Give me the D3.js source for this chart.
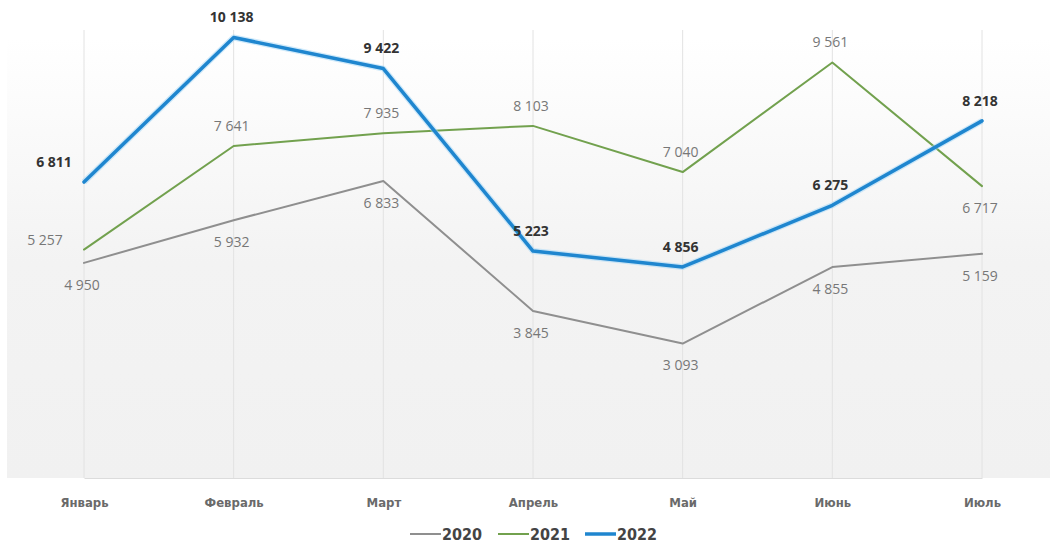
<!DOCTYPE html>
<html>
<head>
<meta charset="utf-8">
<script src="https://cdn.jsdelivr.net/npm/d3@7"></script>
<style>
  body { margin: 0; background: #fff; }
  svg { display: block; }
</style>
</head>
<body>
<svg id="chart"></svg>
<script>
var months = ["Январь", "Февраль", "Март", "Апрель", "Май", "Июнь", "Июль"];
var years = ["2020", "2021", "2022"];
var v2020 = [4950, 5932, 6833, 3845, 3093, 4855, 5159];
var v2021 = [5257, 7641, 7935, 8103, 7040, 9561, 6717];
var v2022 = [6811, 10138, 9422, 5223, 4856, 6275, 8218];
var yMax = 11000;

var svgWidth = 1056, svgHeight = 545;
var margin = { top: 0, right: 6, bottom: 67, left: 7 };
var width = svgWidth - margin.left - margin.right;
var height = svgHeight - margin.top - margin.bottom;

var svg = d3.select("#chart")
  .attr("width", svgWidth)
  .attr("height", svgHeight);

// background gradient of plot area
var defs = svg.append("defs");
var grad = defs.append("linearGradient")
  .attr("id", "bg")
  .attr("x1", 0).attr("y1", 0).attr("x2", 0).attr("y2", 1);
grad.append("stop").attr("offset", "8%").attr("stop-color", "#ffffff");
grad.append("stop").attr("offset", "55%").attr("stop-color", "#f3f3f3");
grad.append("stop").attr("offset", "100%").attr("stop-color", "#f1f1f1");

var g = svg.append("g")
  .attr("transform", "translate(" + margin.left + "," + margin.top + ")");

g.append("rect")
  .attr("width", width)
  .attr("height", height)
  .attr("fill", "url(#bg)");

var x = d3.scalePoint().domain(months).range([77, 975]);
var y = d3.scaleLinear().domain([0, yMax]).range([height, 0]);

// vertical gridlines
g.selectAll(".grid")
  .data(months)
  .enter().append("line")
  .attr("class", "grid")
  .attr("x1", function(d) { return x(d); })
  .attr("x2", function(d) { return x(d); })
  .attr("y1", 30)
  .attr("y2", height)
  .attr("stroke", "#e2e2e2")
  .attr("stroke-width", 1);

// x axis
var xAxis = g.append("g")
  .attr("transform", "translate(0," + height + ")")
  .call(d3.axisBottom(x).tickSize(0).tickPadding(20));
xAxis.select(".domain").attr("stroke", "#dcdcdc");
xAxis.selectAll("text")
  .attr("fill", "#6a6a6a")
  .style("font-family", "'DejaVu Sans Condensed', 'DejaVu Sans'")
  .style("font-stretch", "condensed")
  .style("font-size", "13px")
  .style("font-weight", "bold");

var series = [
  { name: years[0], values: v2020, color: "#8f8f8f", w: 2, place: ["below", "below", "below", "below", "below", "below", "below"] },
  { name: years[1], values: v2021, color: "#72a14e", w: 2, place: ["left", "above", "above", "above", "above", "above", "below"] },
  { name: years[2], values: v2022, color: "#1f86cf", w: 3.5, place: ["leftabove", "above", "above", "above", "above", "above", "above"] }
];

var line = d3.line()
  .x(function(d, i) { return x(months[i]); })
  .y(function(d) { return y(d); });

series.forEach(function(s) {
  if (s.name == "2022") {
    g.append("path")
      .datum(s.values)
      .attr("fill", "none")
      .attr("stroke", "#9fd6f7")
      .attr("stroke-opacity", 0.5)
      .attr("stroke-width", 6)
      .attr("stroke-linejoin", "round")
      .attr("d", line);
  }
  g.append("path")
    .datum(s.values)
    .attr("fill", "none")
    .attr("stroke", s.color)
    .attr("stroke-width", s.w)
    .attr("stroke-linejoin", "round")
    .attr("stroke-linecap", "round")
    .attr("d", line);
});

// data labels
var fmt = function(v) { return d3.format(",")(v).replace(",", " "); };
series.forEach(function(s) {
  var bold = s.name == "2022";
  g.selectAll(".lbl" + s.name)
    .data(s.values)
    .enter().append("text")
    .attr("x", function(d, i) {
      var p = s.place[i];
      if (p == "left") return x(months[i]) - 39;
      if (p == "leftabove") return x(months[i]) - 30;
      return x(months[i]) - 2;
    })
    .attr("y", function(d, i) {
      var p = s.place[i];
      if (p == "below") return y(d) + 22;
      if (p == "left") return y(d) - 9;
      return y(d) - 20;
    })
    .attr("dy", "0.35em")
    .attr("text-anchor", "middle")
    .attr("fill", bold ? "#333" : "#777")
    .style("font-family", "'Open Sans', sans-serif")
    .style("font-size", "14px")
    .style("font-weight", bold ? "bold" : "normal")
    .text(function(d) { return fmt(d); });
});

// legend
var legend = svg.append("g").attr("transform", "translate(410,534)");
var offs = [0, 88, 175];
series.forEach(function(s, i) {
  var item = legend.append("g").attr("transform", "translate(" + offs[i] + ",0)");
  item.append("line")
    .attr("x1", 0).attr("x2", 31)
    .attr("y1", 0).attr("y2", 0)
    .attr("stroke", s.color)
    .attr("stroke-width", s.w);
  item.append("text")
    .attr("x", 32)
    .attr("dy", "0.35em")
    .attr("fill", "#444")
    .style("font-family", "'DejaVu Sans Condensed', 'DejaVu Sans'")
    .style("font-stretch", "condensed")
    .style("font-size", "16px")
    .style("font-weight", "bold")
    .text(s.name);
});
</script>
</body>
</html>
